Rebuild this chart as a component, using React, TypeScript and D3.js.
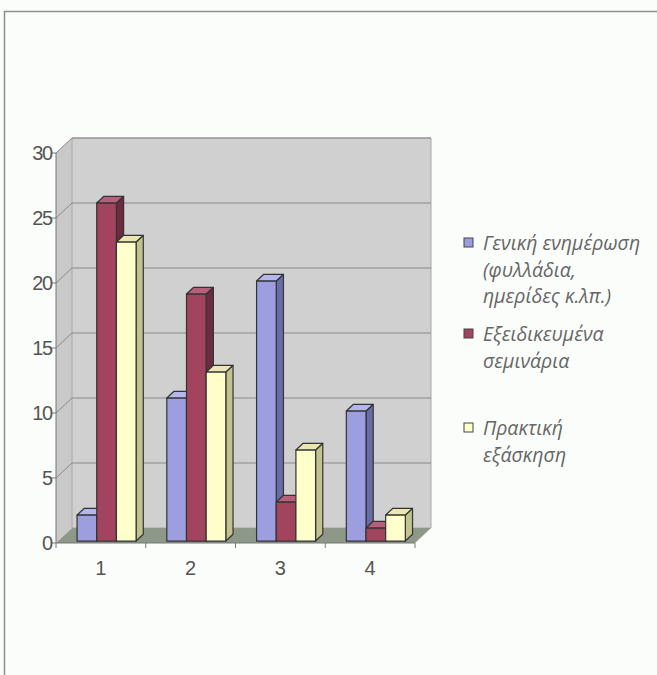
import React from "react";
import * as d3 from "d3";

const categories = ["1", "2", "3", "4"];
const seriesNames = ["Γενική ενημέρωση", "Εξειδικευμένα σεμινάρια", "Πρακτική εξάσκηση"];
const generalInfo = [2, 11, 20, 10];
const seminars = [26, 19, 3, 1];
const practice = [23, 13, 7, 2];
const valueTicks = [0, 5, 10, 15, 20, 25, 30];
const legendLines = [
  ["Γενική ενημέρωση", "(φυλλάδια,", "ημερίδες κ.λπ.)"],
  ["Εξειδικευμένα", "σεμινάρια"],
  ["Πρακτική", "εξάσκηση"],
];

const seriesValues = [generalInfo, seminars, practice];
const palette = [
  { front: "#9c9ee0", side: "#6a6ca8", top: "#b4b6ee" },
  { front: "#a3445e", side: "#6e2a40", top: "#b8607a" },
  { front: "#ffffcc", side: "#c2c28e", top: "#ece6b0" },
];

export default function App() {
  const W = 657, H = 675;
  const DX = 16, DY = 15;
  const x0 = 56, x1 = 415;
  const y = d3.scaleLinear().domain([0, 30]).range([543, 153]);
  const xc = d3.scaleBand<string>().domain(categories).range([x0, x1]).padding(0);
  const xs = d3.scaleBand<number>().domain([0, 1, 2]).range([19, 78]).padding(0);
  const z0 = 0.13, z1 = 0.58;
  const P = (px: number, v: number, z: number): [number, number] => [px + z * DX, y(v) - z * DY];
  const pts = (a: [number, number][]) => a.map((p) => p.join(",")).join(" ");

  const yBack0 = y(0) - DY;
  const yBackTop = y(30) - DY;
  const stroke = "#333";

  const bars: JSX.Element[] = [];
  categories.forEach((c, ci) => {
    seriesValues.forEach((vals, si) => {
      const v = vals[ci];
      const L = (xc(c) as number) + (xs(si) as number);
      const R = L + xs.bandwidth();
      const col = palette[si];
      const front = [P(L, 0, z0), P(R, 0, z0), P(R, v, z0), P(L, v, z0)];
      const side = [P(R, 0, z0), P(R, 0, z1), P(R, v, z1), P(R, v, z0)];
      const top = [P(L, v, z0), P(R, v, z0), P(R, v, z1), P(L, v, z1)];
      bars.push(
        <g key={`${ci}-${si}`} strokeWidth={1.2} stroke={stroke} strokeLinejoin="round">
          <polygon points={pts(side)} fill={col.side} />
          <polygon points={pts(top)} fill={col.top} />
          <polygon points={pts(front)} fill={col.front} />
        </g>
      );
    });
  });

  return (
    <svg width={W} height={H} style={{ position: "absolute", left: 0, top: 0 }} fontFamily="'Liberation Sans', Arial, sans-serif">
      <rect x={0} y={0} width={W} height={H} fill="#fbfdfb" />
      <path d={`M4.5,${H} V11.5 H${W}`} fill="none" stroke="#8e8e8e" strokeWidth={1.5} />

      {/* side wall */}
      <polygon points={pts([[x0, y(30)], [x0 + DX, yBackTop], [x0 + DX, yBack0], [x0, y(0)]])} fill="#c9c9c9" />
      {/* back wall */}
      <polygon points={pts([[x0 + DX, yBackTop], [x1 + DX, yBackTop], [x1 + DX, yBack0], [x0 + DX, yBack0]])} fill="#d0d0d0" stroke="#a8a8a0" strokeWidth={1} />
      {/* floor */}
      <polygon points={pts([[x0, y(0)], [x0 + DX, yBack0], [x1 + DX, yBack0], [x1, y(0)]])} fill="#8e9888" />

      {/* gridlines */}
      {valueTicks.filter((t) => t > 0).map((t) => (
        <g key={t} stroke="#8a8a8a" strokeWidth={1}>
          <line x1={x0} y1={y(t)} x2={x0 + DX} y2={y(t) - DY} />
          <line x1={x0 + DX} y1={y(t) - DY} x2={x1 + DX} y2={y(t) - DY} />
        </g>
      ))}

      {/* axes */}
      <line x1={x0} y1={y(30)} x2={x0} y2={y(0)} stroke="#777" strokeWidth={1} />
      <line x1={x0} y1={y(0)} x2={x1} y2={y(0)} stroke="#777" strokeWidth={1} />
      {valueTicks.map((t) => (
        <g key={t}>
          <line x1={x0 - 5} x2={x0} y1={y(t)} y2={y(t)} stroke="#777" />
          <text x={x0 - 4} y={y(t)} dy="0.36em" textAnchor="end" fontSize={20} fill="#555" letterSpacing={-1.2}>
            {t}
          </text>
        </g>
      ))}
      {[...categories.map((c) => xc(c) as number), x1].map((px, i) => (
        <line key={i} x1={px} x2={px} y1={y(0)} y2={y(0) + 5} stroke="#777" />
      ))}
      {categories.map((c) => (
        <text key={c} x={(xc(c) as number) + xc.bandwidth() / 2} y={575} textAnchor="middle" fontSize={20} fill="#555">
          {c}
        </text>
      ))}

      {bars}

      {/* legend */}
      {legendLines.map((lines, i) => {
        const ys = [238, 329, 423][i];
        return (
          <g key={i}>
            <rect x={464} y={ys} width={9} height={9} fill={palette[i].front} stroke="#444" strokeWidth={1} />
            {lines.map((ln, j) => (
              <text key={j} x={483} y={ys + 12 + j * 26.5} fontSize={19.5} fontStyle="italic" fill="#666" fontFamily="'Open Sans', 'Noto Sans', sans-serif">
                {ln}
              </text>
            ))}
          </g>
        );
      })}
    </svg>
  );
}
